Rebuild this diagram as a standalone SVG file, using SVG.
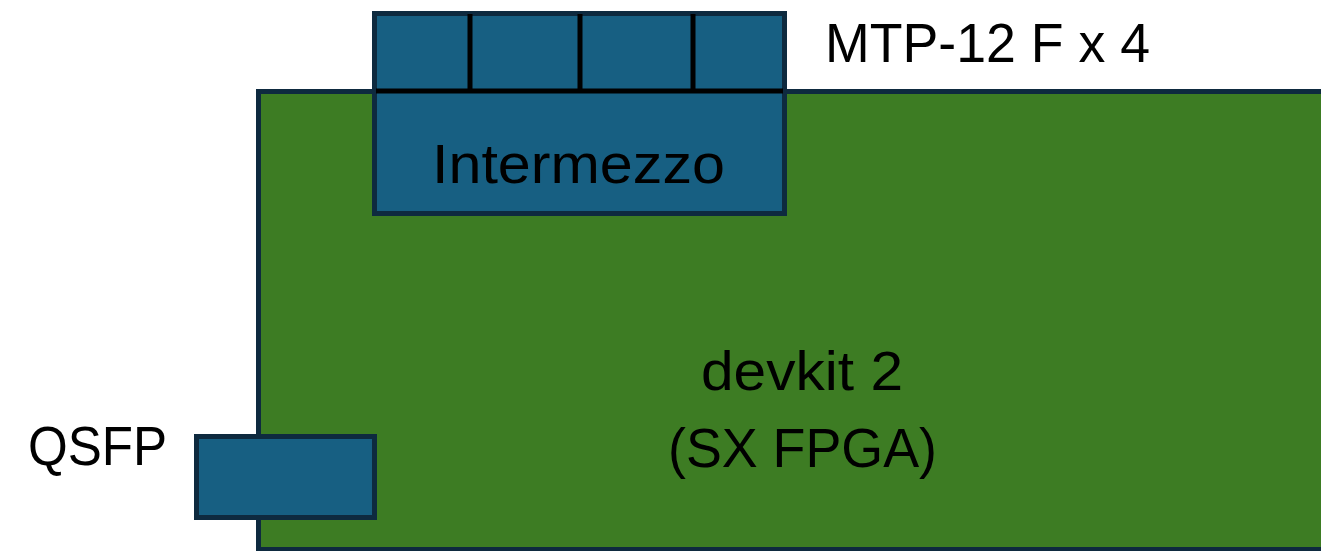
<svg xmlns="http://www.w3.org/2000/svg" width="1321" height="551" viewBox="0 0 1321 551">
  <style>
    .board { fill: #3d7c23; stroke: #0e2a3f; stroke-width: 5; }
    .part { fill: #175f82; stroke: #0e2a3f; stroke-width: 5; }
    .div { stroke: #000; stroke-width: 5; fill: none; }
    text { font-family: "Liberation Sans", Arial, sans-serif; font-size: 56px; fill: #000; }
  </style>
  <rect width="1321" height="551" fill="#fff"/>

  <g id="devkit">
    <rect class="board" x="258.5" y="91.5" width="1080" height="458"/>
    <text x="802" y="390" text-anchor="middle" textLength="202" lengthAdjust="spacingAndGlyphs">devkit 2</text>
    <text x="802.5" y="467" text-anchor="middle" textLength="269" lengthAdjust="spacingAndGlyphs">(SX FPGA)</text>
  </g>

  <g id="intermezzo">
    <rect class="part" x="374.5" y="13.5" width="410" height="200"/>
    <line class="div" x1="376" y1="91" x2="783" y2="91"/>
    <line class="div" x1="470" y1="14" x2="470" y2="91"/>
    <line class="div" x1="580" y1="14" x2="580" y2="91"/>
    <line class="div" x1="693" y1="14" x2="693" y2="91"/>
    <text x="578.5" y="183" text-anchor="middle" textLength="293" lengthAdjust="spacingAndGlyphs">Intermezzo</text>
  </g>

  <g id="mtp-label">
    <text x="825" y="62" textLength="325" lengthAdjust="spacingAndGlyphs">MTP-12 F x 4</text>
  </g>

  <g id="qsfp">
    <rect class="part" x="196.5" y="436.5" width="178" height="81"/>
    <text x="28" y="465" textLength="139" lengthAdjust="spacingAndGlyphs">QSFP</text>
  </g>

  <g id="connectors"/>
</svg>
